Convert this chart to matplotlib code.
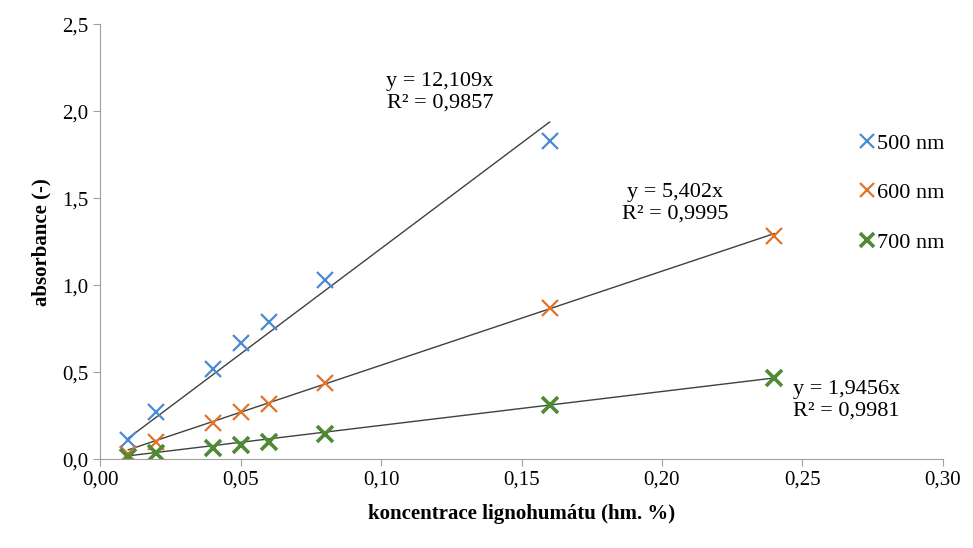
import numpy as np
import matplotlib.pyplot as plt
from matplotlib.ticker import FuncFormatter

plt.rcParams['font.family'] = ['Liberation Serif', 'DejaVu Serif']

# data
conc = [0.01, 0.02, 0.04, 0.05, 0.06, 0.08, 0.16, 0.24]
abs_500 = [0.11, 0.27, 0.52, 0.67, 0.79, 1.03, 1.83]
abs_600 = [0.03, 0.10, 0.21, 0.27, 0.32, 0.44, 0.87, 1.28]
abs_700 = [0.01, 0.035, 0.065, 0.08, 0.10, 0.145, 0.31, 0.465]
slopes = [12.109, 5.402, 1.9456]
labels = ['500 nm', '600 nm', '700 nm']
colors = ['#4a8ad0', '#e07428', '#4f8a35']

fig = plt.figure(figsize=(9.73, 5.48), dpi=100)
ax = fig.add_axes([0.103, 0.162, 0.866, 0.794])

series = [abs_500, abs_600, abs_700]
for ys, col, lab, lw in zip(series, colors, labels, [1.6, 1.6, 2.6]):
    xs = conc[:len(ys)]
    ax.plot(xs, ys, 'x', color=col, markersize=11, markeredgewidth=lw, label=lab)

# trendlines through origin
for ys, k in zip(series, slopes):
    xs = np.array([conc[0], conc[len(ys) - 1]])
    ax.plot(xs, k * xs, color='#404040', lw=1.0, zorder=1)

ax.set_xlim(0, 0.30)
ax.set_ylim(0, 2.5)
ax.set_xticks(np.arange(0, 0.301, 0.05))
ax.set_yticks(np.arange(0, 2.51, 0.5))
ax.xaxis.set_major_formatter(FuncFormatter(lambda v, p: f'{v:.2f}'.replace('.', ',')))
ax.yaxis.set_major_formatter(FuncFormatter(lambda v, p: f'{v:.1f}'.replace('.', ',')))

for s in ['top', 'right']:
    ax.spines[s].set_visible(False)
for s in ['left', 'bottom']:
    ax.spines[s].set_color('#a0a0a0')
ax.tick_params(colors='#a0a0a0', direction='out', length=5, labelsize=15, labelcolor='black')

ax.set_xlabel('koncentrace lignohumátu (hm. %)', fontsize=15, fontweight='bold', labelpad=10)
ax.set_ylabel('absorbance (-)', fontsize=15, fontweight='bold', labelpad=8)

# equations
ax.text(0.121, 2.11, 'y = 12,109x\nR² = 0,9857', fontsize=16, ha='center', va='center', linespacing=1.2)
ax.text(0.2046, 1.47, 'y = 5,402x\nR² = 0,9995', fontsize=16, ha='center', va='center', linespacing=1.2)
ax.text(0.2466, 0.34, 'y = 1,9456x\nR² = 0,9981', fontsize=16, ha='left', va='center', linespacing=1.2)

ax.legend(loc='upper left', bbox_to_anchor=(0.89, 0.77), frameon=False, fontsize=16,
          handlelength=0.7, handletextpad=0.1, labelspacing=1.3, markerscale=0.9,
          borderaxespad=0)

fig.savefig('out.png', dpi=100)
